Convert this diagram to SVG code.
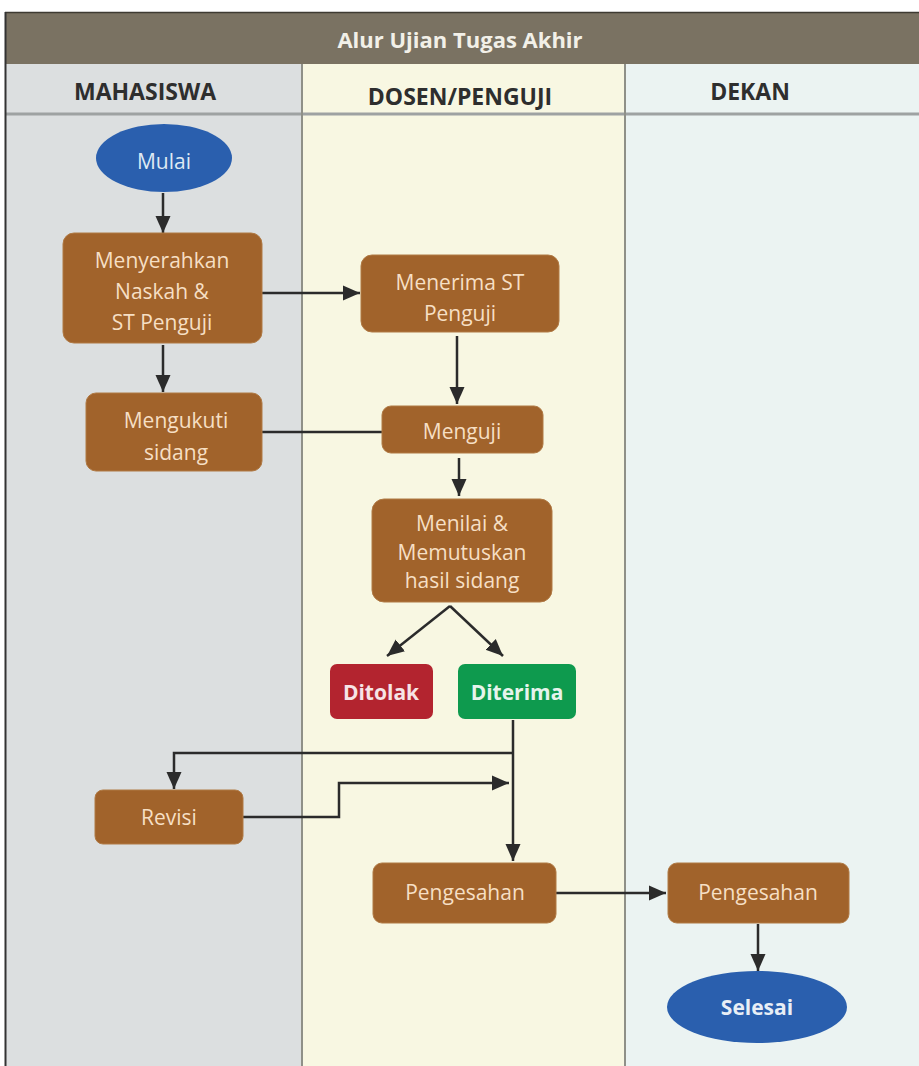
<svg xmlns="http://www.w3.org/2000/svg" width="919" height="1066" viewBox="0 0 919 1066">
<defs>
<style>
.lane-title{font-family:"Open Sans","Noto Sans",sans-serif;font-weight:bold;font-size:23px;fill:#2e2e2e;text-anchor:middle}
.box{fill:#a1632b;stroke:#b07a45;stroke-width:1}
.txt{font-family:"Open Sans","Noto Sans",sans-serif;font-size:21px;fill:#f6dfc4;text-anchor:middle}
.btxt{font-family:"Open Sans","Noto Sans",sans-serif;font-weight:bold;font-size:21px;fill:#eef2f4;text-anchor:middle}
.oval{fill:#2a5fae}
.conn{fill:none;stroke:#2b2b2b;stroke-width:2.5}
</style>
<marker id="ah" markerUnits="userSpaceOnUse" markerWidth="18" markerHeight="18" refX="17" refY="9" orient="auto" viewBox="0 0 18 18">
<path d="M0,1.5 L17,9 L0,16.5 z" fill="#2b2b2b"/>
</marker>
</defs>
<rect x="0" y="0" width="919" height="1066" fill="#ffffff"/>
<g id="lanes">
<rect x="5" y="64" width="297" height="1002" fill="#dcdfe0"/>
<rect x="302" y="64" width="323" height="1002" fill="#f8f7e2"/>
<rect x="625" y="64" width="294" height="1002" fill="#ebf3f2"/>
<rect x="5" y="12" width="914" height="52" fill="#7a7262"/>
<line x1="5" y1="12.5" x2="919" y2="12.5" stroke="#3e3a32" stroke-width="1.5"/>
<line x1="5" y1="114" x2="919" y2="114" stroke="#9ea2a2" stroke-width="3"/>
<line x1="302" y1="64" x2="302" y2="1066" stroke="#8f9088" stroke-width="2"/>
<line x1="625" y1="64" x2="625" y2="1066" stroke="#8f9088" stroke-width="2"/>
<line x1="5.5" y1="12" x2="5.5" y2="1066" stroke="#333333" stroke-width="2"/>
<text x="460" y="48" font-family="'Open Sans','Noto Sans',sans-serif" font-weight="bold" font-size="22" fill="#f2f0e8" text-anchor="middle">Alur Ujian Tugas Akhir</text>
<text class="lane-title" x="145" y="100">MAHASISWA</text>
<text class="lane-title" x="460" y="105">DOSEN/PENGUJI</text>
<text class="lane-title" x="750" y="100">DEKAN</text>
</g>
<g id="connectors">
<path class="conn" d="M163,193 L163,233" marker-end="url(#ah)"/>
<path class="conn" d="M262,293 L360,293" marker-end="url(#ah)"/>
<path class="conn" d="M163,345 L163,392" marker-end="url(#ah)"/>
<path class="conn" d="M262,432 L382,432"/>
<path class="conn" d="M457,336 L457,404" marker-end="url(#ah)"/>
<path class="conn" d="M459,458 L459,496" marker-end="url(#ah)"/>
<path class="conn" d="M450,606 L387,656" marker-end="url(#ah)"/>
<path class="conn" d="M450,606 L503,656" marker-end="url(#ah)"/>
<path class="conn" d="M513,720 L513,861" marker-end="url(#ah)"/>
<path class="conn" d="M513,753 L174,753 L174,789" marker-end="url(#ah)"/>
<path class="conn" d="M243,817 L339,817 L339,783 L509,783" marker-end="url(#ah)"/>
<path class="conn" d="M556,893 L666,893" marker-end="url(#ah)"/>
<path class="conn" d="M758,924 L758,971" marker-end="url(#ah)"/>
</g>
<g id="mulai">
<ellipse class="oval" cx="164" cy="158" rx="68" ry="34"/>
<text class="txt" x="164" y="169" style="fill:#dfe9f3">Mulai</text>
</g>
<g id="menyerahkan">
<rect class="box" x="63" y="233" width="199" height="110" rx="11"/>
<text class="txt" x="162" y="268">Menyerahkan</text>
<text class="txt" x="162" y="299">Naskah &amp;</text>
<text class="txt" x="162" y="330">ST Penguji</text>
</g>
<g id="menerima">
<rect class="box" x="361" y="255" width="198" height="77" rx="11"/>
<text class="txt" x="460" y="290">Menerima ST</text>
<text class="txt" x="460" y="321">Penguji</text>
</g>
<g id="mengukuti">
<rect class="box" x="86" y="393" width="176" height="78" rx="10"/>
<text class="txt" x="176" y="428">Mengukuti</text>
<text class="txt" x="176" y="460">sidang</text>
</g>
<g id="menguji">
<rect class="box" x="382" y="406" width="161" height="47" rx="9"/>
<text class="txt" x="462" y="439">Menguji</text>
</g>
<g id="menilai">
<rect class="box" x="372" y="499" width="180" height="103" rx="12"/>
<text class="txt" x="462" y="531">Menilai &amp;</text>
<text class="txt" x="462" y="560">Memutuskan</text>
<text class="txt" x="462" y="588">hasil sidang</text>
</g>
<g id="ditolak">
<rect x="330" y="664" width="103" height="55" rx="7" fill="#b3242f"/>
<text class="btxt" x="381" y="700" style="fill:#f6e4e6">Ditolak</text>
</g>
<g id="diterima">
<rect x="458" y="664" width="118" height="55" rx="7" fill="#0e9a4e"/>
<text class="btxt" x="517" y="700" style="fill:#e6f4ec">Diterima</text>
</g>
<g id="revisi">
<rect class="box" x="95" y="790" width="148" height="54" rx="8"/>
<text class="txt" x="169" y="825">Revisi</text>
</g>
<g id="pengesahan-dosen">
<rect class="box" x="373" y="863" width="183" height="60" rx="9"/>
<text class="txt" x="465" y="900">Pengesahan</text>
</g>
<g id="pengesahan-dekan">
<rect class="box" x="668" y="863" width="181" height="60" rx="9"/>
<text class="txt" x="758" y="900">Pengesahan</text>
</g>
<g id="selesai">
<ellipse class="oval" cx="757" cy="1007" rx="90" ry="36"/>
<text class="btxt" x="757" y="1015" style="fill:#e8eef6">Selesai</text>
</g>
</svg>
